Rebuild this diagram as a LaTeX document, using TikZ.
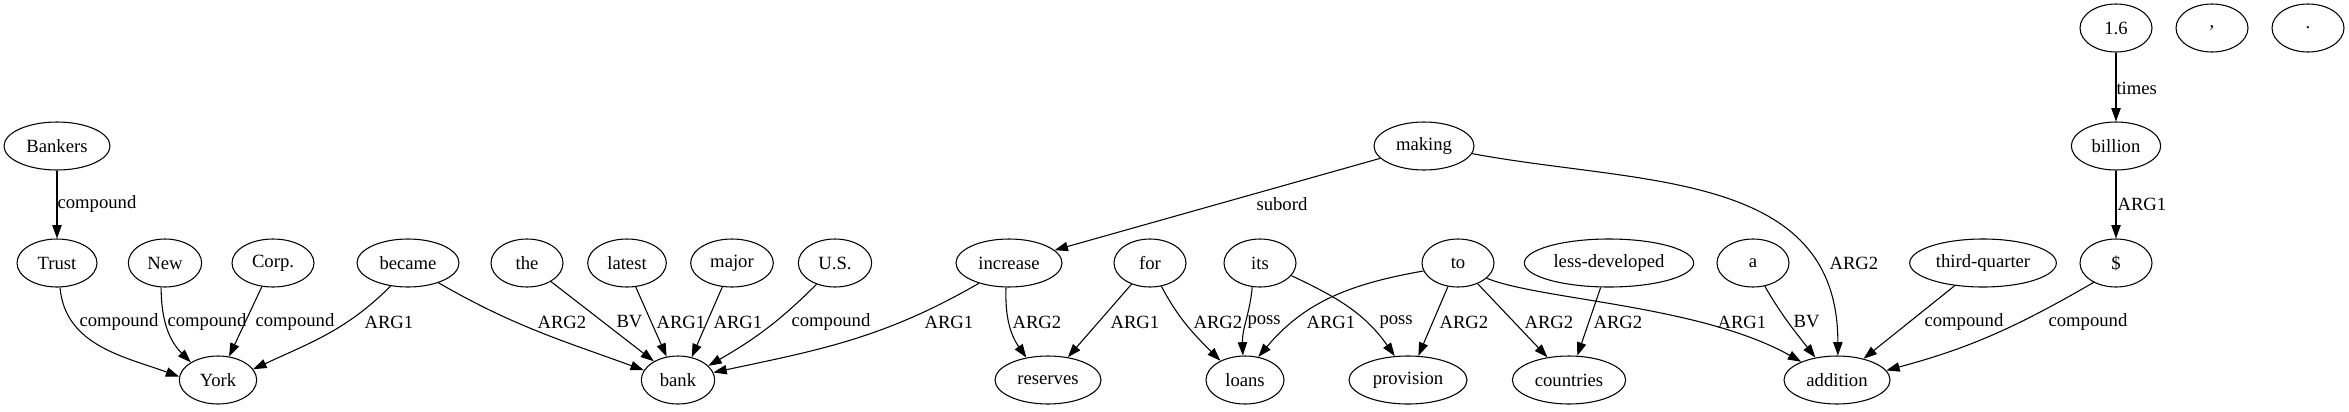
\documentclass[tikz,border=0pt]{standalone}
\usepackage{fontspec}
\setmainfont{Liberation Serif}
\usetikzlibrary{arrows.meta,shapes.geometric}

\begin{document}
\begin{tikzpicture}[x=0.75pt, y=-0.75pt,
    word/.style={draw, ellipse, line width=0.8pt, inner sep=1pt,
        minimum height=36pt, minimum width=#1,
        font=\fontsize{14pt}{17pt}\selectfont},
    word/.default=54pt,
    rel/.style={-{Triangle[length=10pt, width=7pt]}, line width=0.8pt},
    lab/.style={anchor=west, inner sep=0pt, font=\fontsize{14pt}{17pt}\selectfont}]

    \useasboundingbox (0,0) rectangle (2349,411);

    % Nodes
    \node[word] (onesix) at (2116,28) {1.6};
    \node[word] (comma) at (2212,28) {,};
    \node[word] (period) at (2308,28) {.};

    \node[word=79.5pt] (bankers) at (57,146) {Bankers};
    \node[word=75pt] (making) at (1424,146) {making};
    \node[word=67pt] (billion) at (2116,146) {billion};

    \node[word=60pt] (trust) at (57,263) {Trust};
    \node[word=55pt] (new) at (165,263) {New};
    \node[word=61.5pt] (corp) at (273,263) {Corp.};
    \node[word=76.5pt] (became) at (408,263) {became};
    \node[word] (the) at (527,263) {the};
    \node[word=59pt] (latest) at (627,263) {latest};
    \node[word=62pt] (major) at (732,263) {major};
    \node[word=55pt] (us) at (835,263) {U.S.};
    \node[word=79.5pt] (increase) at (1009,263) {increase};
    \node[word] (for) at (1150,263) {for};
    \node[word] (its) at (1260,263) {its};
    \node[word] (to) at (1458,263) {to};
    \node[word=127pt] (lessdev) at (1609,263) {less-developed};
    \node[word] (a) at (1753,263) {a};
    \node[word=110pt] (thirdq) at (1983,263) {third-quarter};
    \node[word] (dollar) at (2116,263) {\$};

    \node[word=58pt] (york) at (218,380) {York};
    \node[word=55pt] (bank) at (678,380) {bank};
    \node[word=79.5pt] (reserves) at (1048,380) {reserves};
    \node[word=58.5pt] (loans) at (1245,380) {loans};
    \node[word=88.5pt] (provision) at (1408,380) {provision};
    \node[word=85pt] (countries) at (1569,380) {countries};
    \node[word=79.5pt] (addition) at (1837,380) {addition};

    % Edges with labels
    \draw[rel] (bankers) -- (trust) node[lab] at (57,204) {compound};
    \draw[rel] (trust.-83) to[out=-85, in=160] (york.175) node[lab] at (79,322) {compound};
    \draw[rel] (new.-99) to[out=-90, in=135] (york.147) node[lab] at (167,322) {compound};
    \draw[rel] (corp) -- (york) node[lab] at (255,322) {compound};
    \draw[rel] (became.-127) to[out=-135, in=25] (york.17) node[lab] at (364,322) {ARG1};
    \draw[rel] (became.-33) to[out=-30, in=160] (bank.164) node[lab] at (537,322) {ARG2};
    \draw[rel] (the) -- (bank) node[lab] at (616,322) {BV};
    \draw[rel] (latest.-70) -- (bank.116) node[lab] at (656,322) {ARG1};
    \draw[rel] (major.-112) -- (bank.59) node[lab] at (713,322) {ARG1};
    \draw[rel] (us.-131) to[out=-135, in=30] (bank.25) node[lab] at (791,322) {compound};
    \draw[rel] (increase.-146) to[out=-150, in=12] (bank.12) node[lab] at (924,322) {ARG1};
    \draw[rel] (increase.-97) to[out=-92, in=125] (reserves.134) node[lab] at (1012,322) {ARG2};
    \draw[rel] (for) -- (reserves) node[lab] at (1110,322) {ARG1};
    \draw[rel] (for.-64) to[out=-62, in=135] (loans.142) node[lab] at (1193,322) {ARG2};
    \draw[rel] (its.-108) to[out=-95, in=92] (loans.95) node[lab] at (1247,322) {poss};
    \draw[rel] (to.-167) to[out=-170, in=50] (loans.60) node[lab] at (1306,322) {ARG1};
    \draw[rel] (its.-22) to[out=-25, in=125] (provision.119) node[lab] at (1379,322) {poss};
    \draw[rel] (to) -- (provision) node[lab] at (1439,322) {ARG2};
    \draw[rel] (to) -- (countries) node[lab] at (1524,322) {ARG2};
    \draw[rel] (lessdev) -- (countries) node[lab] at (1593,322) {ARG2};
    \draw[rel] (to.-28) .. controls (1540,300) and (1700,305) .. (addition.153) node[lab] at (1717,322) {ARG1};
    \draw[rel] (a.-63) to[out=-60, in=128] (addition.134) node[lab] at (1793,322) {BV};
    \draw[rel] (making.-9) .. controls (1640,185) and (1838,170) .. (addition.88) node[lab] at (1829,263) {ARG2};
    \draw[rel] (thirdq) -- (addition) node[lab] at (1924,322) {compound};
    \draw[rel] (dollar.-139) to[out=-150, in=15] (addition.11) node[lab] at (2048,322) {compound};
    \draw[rel] (making) -- (increase) node[lab] at (1256,204) {subord};
    \draw[rel] (onesix) -- (billion) node[lab] at (2116,88) {times};
    \draw[rel] (billion) -- (dollar) node[lab] at (2117,204) {ARG1};
\end{tikzpicture}
\end{document}
